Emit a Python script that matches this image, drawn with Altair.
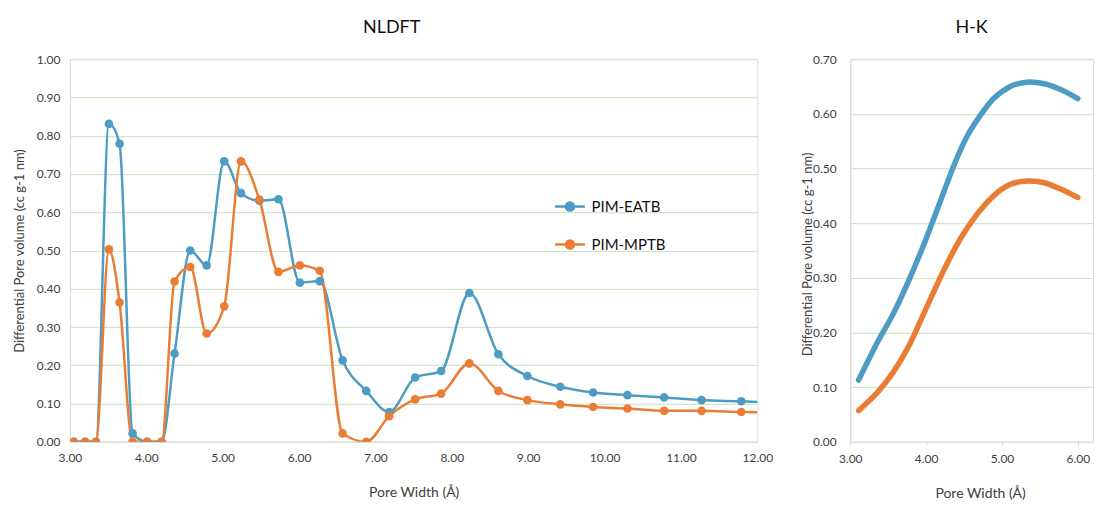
import altair as alt
import pandas as pd

# ---------------- NLDFT data ----------------
nl_width = [3.05, 3.20, 3.34, 3.51, 3.65, 3.82, 4.01, 4.20, 4.37, 4.575, 4.79, 5.02,
            5.24, 5.48, 5.73, 6.01, 6.27, 6.57, 6.88, 7.18, 7.52, 7.86, 8.23, 8.61,
            8.99, 9.42, 9.85, 10.30, 10.78, 11.27, 11.79, 12.33]
nl_eatb = [0.0, 0.0, 0.0, 0.831, 0.779, 0.022, 0.0, 0.0, 0.231, 0.500, 0.461, 0.733,
           0.650, 0.630, 0.634, 0.416, 0.420, 0.213, 0.133, 0.078, 0.168, 0.185, 0.389, 0.229,
           0.172, 0.144, 0.129, 0.122, 0.116, 0.109, 0.106, 0.102]
nl_mptb = [0.0, 0.0, 0.0, 0.503, 0.364, 0.0, 0.0, 0.0, 0.419, 0.457, 0.283, 0.354,
           0.733, 0.633, 0.444, 0.461, 0.447, 0.022, 0.0, 0.067, 0.111, 0.126, 0.205, 0.133,
           0.109, 0.098, 0.091, 0.087, 0.081, 0.081, 0.078, 0.076]

# ---------------- H-K data ----------------
hk_width = [3.11, 3.35, 3.57, 3.79, 3.99, 4.19, 4.37, 4.54, 4.72, 4.89, 5.11, 5.33, 5.56, 5.78, 6.00]
hk_eatb = [0.113, 0.180, 0.235, 0.301, 0.368, 0.441, 0.507, 0.559, 0.598, 0.628, 0.650, 0.658,
           0.655, 0.644, 0.628]
hk_width_m = [3.11, 3.35, 3.57, 3.79, 3.99, 4.23, 4.45, 4.67, 4.89, 5.11, 5.33, 5.56, 5.78, 6.00]
hk_mptb = [0.057, 0.089, 0.128, 0.180, 0.241, 0.313, 0.371, 0.416, 0.450, 0.471, 0.477, 0.474,
           0.462, 0.447]

series = ["PIM-EATB", "PIM-MPTB"]
colors = ["#4e9cc4", "#ea7d35"]

nl = pd.DataFrame({
    "w": nl_width * 2,
    "v": nl_eatb + nl_mptb,
    "s": [series[0]] * len(nl_width) + [series[1]] * len(nl_width),
})
hk = pd.DataFrame({
    "w": hk_width + hk_width_m,
    "v": hk_eatb + hk_mptb,
    "s": [series[0]] * len(hk_width) + [series[1]] * len(hk_width_m),
})

FONT = "Lato"
GRID = "#d3e6c8"
AX = "#d9d9d9"
TXT = "#404040"

legend_symbol = "M-1,0H1M0.27,0A0.27,0.27,0,1,1,-0.27,0A0.27,0.27,0,1,1,0.27,0Z"

color_enc = alt.Color("s:N", scale=alt.Scale(domain=series, range=colors),
                      legend=alt.Legend(title=None, orient="none", legendX=484, legendY=131,
                                        symbolType=legend_symbol, symbolSize=900,
                                        symbolStrokeWidth=2.5, labelFontSize=15,
                                        labelColor="#111111", labelFont=FONT,
                                        rowPadding=12, labelOffset=5))

x_left = alt.X("w:Q", scale=alt.Scale(domain=[3, 12], nice=False, zero=False),
               axis=alt.Axis(title="Pore Width (\u00c5)", values=list(range(3, 13)), format=".2f",
                             labelFlush=False, grid=False, ticks=False, labelPadding=11,
                             titlePadding=22, domainColor=AX, labelColor=TXT,
                             titleColor=TXT, labelFontSize=12, titleFontSize=14,
                             titleFontWeight="normal", labelFont=FONT, titleFont=FONT))
y_left = alt.Y("v:Q", scale=alt.Scale(domain=[0, 1], nice=False),
               axis=alt.Axis(title="Differential Pore volume (cc g-1 nm)",
                             values=[i / 10 for i in range(11)], format=".2f",
                             grid=True, gridColor=GRID, gridWidth=1.2, ticks=False,
                             labelPadding=10, titlePadding=10, domainColor=AX,
                             labelColor=TXT, titleColor=TXT, labelFontSize=12,
                             titleFontSize=13, titleFontWeight="normal",
                             labelFont=FONT, titleFont=FONT))

base_l = alt.Chart(nl)
left = alt.layer(
    base_l.mark_line(interpolate="monotone", strokeWidth=2.5, clip=True).encode(
        x=x_left, y=y_left, color=color_enc, detail="s:N"),
    base_l.mark_point(filled=True, size=75, opacity=1, clip=True).encode(
        x=x_left, y=y_left, color=color_enc),
).properties(width=688, height=383,
             title=alt.TitleParams("NLDFT", fontSize=18, font=FONT, color="#111111",
                                   fontWeight="normal", dx=-22, offset=16))

x_right = alt.X("w:Q", scale=alt.Scale(domain=[3, 6.2], nice=False, zero=False),
                axis=alt.Axis(title="Pore Width (\u00c5)", values=[3, 4, 5, 6], format=".2f",
                              labelFlush=False, grid=False, ticks=True, tickSize=4,
                              tickColor=AX, labelPadding=8, titlePadding=22,
                              titleX=130, domainColor=AX, labelColor=TXT, titleColor=TXT,
                              labelFontSize=12, titleFontSize=14, titleFontWeight="normal",
                              labelFont=FONT, titleFont=FONT))
y_right = alt.Y("v:Q", scale=alt.Scale(domain=[0, 0.7], nice=False),
                axis=alt.Axis(title="Differential Pore volume (cc g-1 nm)",
                              values=[i / 10 for i in range(8)], format=".2f",
                              grid=True, gridColor=GRID, gridWidth=1.2, ticks=False,
                              labelPadding=14, titleX=-43, titleY=195, titleAngle=270,
                              titleBaseline="middle", titleAlign="center",
                              domainColor=AX, labelColor=TXT, titleColor=TXT,
                              labelFontSize=12, titleFontSize=13,
                              titleFontWeight="normal", labelFont=FONT, titleFont=FONT))

right = alt.Chart(hk).mark_line(interpolate="cardinal", tension=0.2, strokeWidth=5.5,
                                strokeCap="round").encode(
    x=x_right, y=y_right,
    color=alt.Color("s:N", scale=alt.Scale(domain=series, range=colors), legend=None),
).properties(width=243, height=383,
             title=alt.TitleParams("H-K", fontSize=18, font=FONT, color="#111111",
                                   fontWeight="normal", offset=16))

chart = alt.hconcat(left, right, spacing=27).resolve_scale(
    color="independent", x="independent", y="independent"
).properties(padding={"left": 4, "top": 10, "right": 0, "bottom": 0}).configure_view(
    stroke=None
).configure(background="white")

chart.save("out.html", embed_options={"renderer": "svg", "actions": False})
